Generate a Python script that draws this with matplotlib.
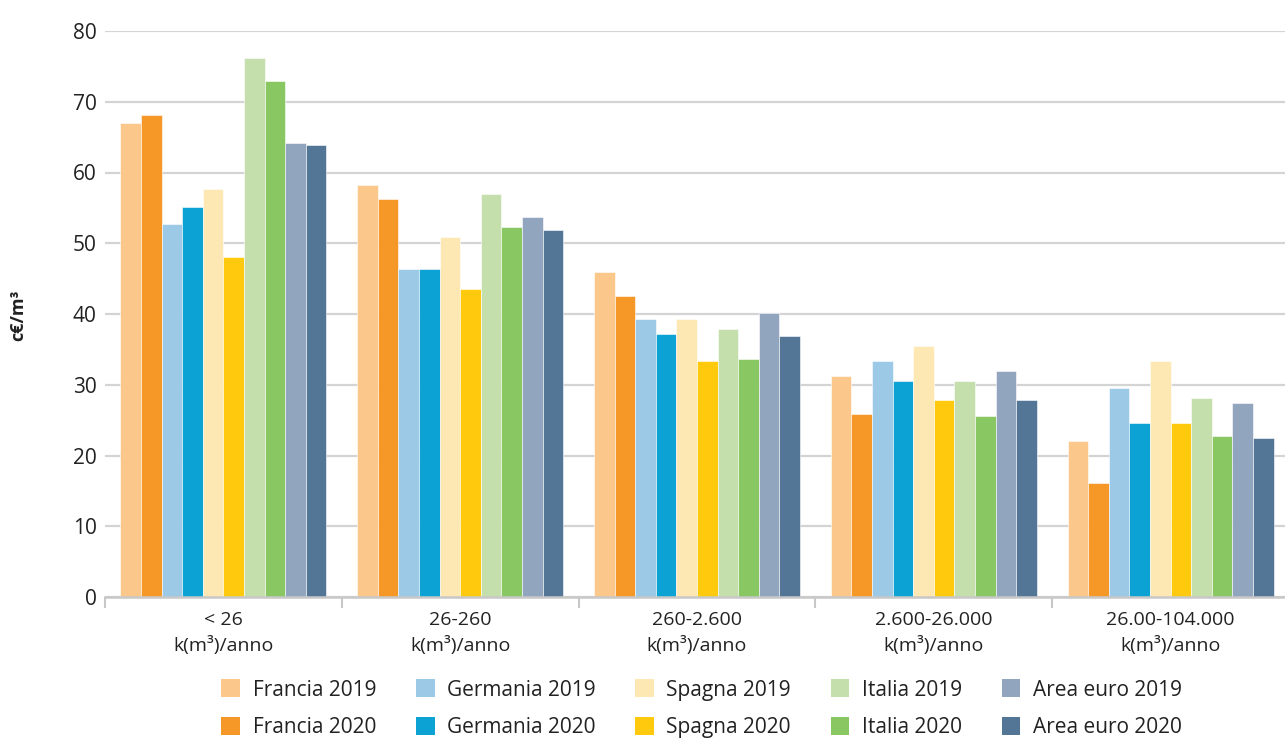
import numpy as np
import matplotlib.pyplot as plt
from matplotlib.patches import Patch

plt.rcParams['font.family'] = ['Open Sans', 'DejaVu Sans']

categories = ["< 26\nk(m³)/anno", "26-260\nk(m³)/anno", "260-2.600\nk(m³)/anno",
              "2.600-26.000\nk(m³)/anno", "26.00-104.000\nk(m³)/anno"]

series_names = ["Francia 2019", "Francia 2020", "Germania 2019", "Germania 2020",
                "Spagna 2019", "Spagna 2020", "Italia 2019", "Italia 2020",
                "Area euro 2019", "Area euro 2020"]

francia_2019 = [67.0, 58.3, 46.0, 31.2, 22.1]
francia_2020 = [68.1, 56.2, 42.5, 25.9, 16.1]
germania_2019 = [52.7, 46.4, 39.3, 33.4, 29.5]
germania_2020 = [55.1, 46.4, 37.2, 30.5, 24.6]
spagna_2019 = [57.6, 50.9, 39.3, 35.5, 33.4]
spagna_2020 = [48.1, 43.5, 33.3, 27.8, 24.6]
italia_2019 = [76.2, 56.9, 37.9, 30.5, 28.1]
italia_2020 = [73.0, 52.3, 33.7, 25.6, 22.8]
area_euro_2019 = [64.2, 53.7, 40.1, 32.0, 27.4]
area_euro_2020 = [63.9, 51.9, 36.9, 27.8, 22.5]

values = [francia_2019, francia_2020, germania_2019, germania_2020,
          spagna_2019, spagna_2020, italia_2019, italia_2020,
          area_euro_2019, area_euro_2020]

colors = ["#FCC78B", "#F59827", "#9BC9E6", "#0CA3D4", "#FDE8B3",
          "#FFCA0E", "#C4DFAC", "#89C763", "#91A5BE", "#537596"]

fig = plt.figure(figsize=(12.85, 7.38), dpi=100)
ax = fig.add_axes([105 / 1285, 141 / 738, 1184 / 1285, 566 / 738])

x = np.arange(len(categories))
n = len(values)
w = 0.087
for i, (vals, col) in enumerate(zip(values, colors)):
    ax.bar(x + (i - (n - 1) / 2) * w, vals, width=w, color=col,
           edgecolor="white", linewidth=0.4, zorder=3)

ax.set_xlim(-0.5, 4.5)
ax.set_ylim(0, 80)
ax.set_yticks(np.arange(0, 81, 10))
ax.grid(axis="y", color="#d4d4d4", linewidth=1.6, zorder=0)
ax.tick_params(axis="y", length=0, pad=6, labelsize=15, labelcolor="#222222")

# boundaries get small tick marks, category names sit in between
ax.set_xticks(np.arange(-0.5, 5, 1))
ax.set_xticklabels([])
ax.set_xticks(x, minor=True)
ax.set_xticklabels(categories, minor=True, fontsize=14, color="#222222",
                   linespacing=1.45)
ax.tick_params(axis="x", which="major", length=8, width=1.5, color="#c8c8c8")
ax.tick_params(axis="x", which="minor", length=0, pad=10)

for side in ["top", "right", "left"]:
    ax.spines[side].set_visible(False)
ax.spines["bottom"].set_color("#c8c8c8")
ax.spines["bottom"].set_linewidth(1.8)
ax.spines["bottom"].set_zorder(4)

fig.text(18 / 1285, 1 - 315 / 738, "c€/m³", rotation=90, fontsize=13,
         fontweight="bold", ha="center", va="center", color="#222222")

handles = [Patch(facecolor=c, edgecolor="none") for c in colors]
fig.legend(handles, series_names, ncol=5, frameon=False, fontsize=15,
           loc="upper left", bbox_to_anchor=(211 / 1285, 1 - 669 / 738),
           handlelength=0.9, handleheight=0.95, handletextpad=0.6,
           columnspacing=1.9, labelspacing=0.8, borderpad=0,
           labelcolor="#222222")

fig.savefig("out.png", dpi=100)
